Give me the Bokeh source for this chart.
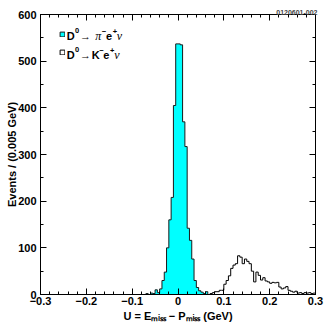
import numpy as np
from bokeh.plotting import figure
from bokeh.models import (LinearAxis, FixedTicker, CustomJSTickFormatter,
                          Label, Range1d, Legend, LegendItem)
from bokeh.embed import file_html
from bokeh.resources import INLINE

# ---------------- data ----------------
BIN_WIDTH = 0.005
pi_first_edge = -0.070
pi_counts = [2, 0, 3, 2, 10, 4, 12, 30, 48, 100, 160, 208, 405, 537,
             537, 535, 370, 317, 142, 116, 76, 30, 15, 8, 5, 2, 6, 0]
k_first_edge = 0.070
k_counts = [2, 4, 6, 6, 9, 9, 22, 30, 40, 56, 63, 66, 83, 80, 66, 76,
            71, 66, 50, 27, 48, 41, 31, 36, 29, 27, 24, 26, 25, 26, 16, 12,
            14, 17, 9, 7, 5, 7, 3, 4, 2, 4, 3, 4, 2, 3]
x_major = [-0.3, -0.2, -0.1, 0.0, 0.1, 0.2, 0.3]
x_tick_labels = ["\u22120.3", "\u22120.2", "\u22120.1", "0", "0.1", "0.2", "0.3"]
y_major = [0, 100, 200, 300, 400, 500, 600]
y_label_text = "Events / (0.005 GeV)"
x_label_text = "U = E\u2098\u1d62\u209b\u209b \u2212 P\u2098\u1d62\u209b\u209b (GeV)"
stamp_text = "0120601-002"

FONT = "Liberation Sans"

def edges_of(first, counts):
    return first + BIN_WIDTH * np.arange(len(counts) + 1)

def outline(edges, counts):
    xs = np.repeat(edges, 2)
    ys = np.concatenate([[0], np.repeat(np.asarray(counts, float), 2), [0]])
    return xs, ys

pi_edges = edges_of(pi_first_edge, pi_counts)
k_edges = edges_of(k_first_edge, k_counts)

W, H = 326, 326
ML, MR, MT, MB = 40, 11, 14, 32

p = figure(width=W, height=H, x_range=Range1d(-0.3, 0.3), y_range=Range1d(0, 600),
           output_backend="svg", toolbar_location=None,
           x_axis_type=None, y_axis_type=None,
           min_border_left=ML, min_border_right=MR, min_border_top=MT, min_border_bottom=MB)
p.xgrid.visible = False
p.ygrid.visible = False
p.outline_line_color = "black"
p.outline_line_width = 1
p.background_fill_color = "white"

# stamp above the frame, right aligned
p.title.text = stamp_text
p.title.align = "right"
p.title.text_font = FONT
p.title.text_font_size = "7px"
p.title.text_font_style = "bold"
p.title.standoff = 0
p.title.offset = -2

# histograms (filled outline patches)
xs, ys = outline(pi_edges, pi_counts)
r_pi = p.patch(xs, ys, fill_color="#00FFFF", line_color="#1a1a1a", line_width=1)
xs, ys = outline(k_edges, k_counts)
r_k = p.patch(xs, ys, fill_color="white", line_color="black", line_width=1)

# axes
x_minor = list(np.round(np.arange(-0.30, 0.3001, 0.02), 2))
y_minor = list(range(0, 601, 50))
xt = FixedTicker(ticks=x_major, minor_ticks=x_minor)
yt = FixedTicker(ticks=y_major, minor_ticks=y_minor)
xfmt = CustomJSTickFormatter(args=dict(labels=x_tick_labels), code="""
const i = Math.round((tick + 0.3) / 0.1);
return labels[i];
""")
blank = CustomJSTickFormatter(code="return '';")

common = dict(major_tick_in=6, major_tick_out=0, minor_tick_in=3, minor_tick_out=0,
              axis_line_color="black", major_tick_line_color="black",
              minor_tick_line_color="black",
              major_label_text_font=FONT, major_label_text_font_style="bold",
              major_label_text_color="black")

bx = LinearAxis(ticker=xt, formatter=xfmt, major_label_text_font_size="11px",
                major_label_standoff=2,
                axis_label=x_label_text, axis_label_text_font=FONT,
                axis_label_text_font_style="bold", axis_label_text_font_size="11px",
                axis_label_standoff=2, axis_label_text_color="black", **common)
p.add_layout(bx, "below")
ly = LinearAxis(ticker=yt, major_label_text_font_size="11px", major_label_standoff=4,
                axis_label=y_label_text, axis_label_text_font=FONT,
                axis_label_text_font_style="bold", axis_label_text_font_size="11px",
                axis_label_standoff=-3, axis_label_text_color="black", **common)
p.add_layout(ly, "left")
p.add_layout(LinearAxis(ticker=xt, formatter=blank, major_label_text_font_size="1px",
                        major_label_standoff=0, **common), "above")
p.add_layout(LinearAxis(ticker=yt, formatter=blank, major_label_text_font_size="1px",
                        major_label_standoff=0, **common), "right")

# frame-relative screen coords from reference window coords
def fx(xr):
    return xr - 39.5

def fy(yr):
    return 294.0 - yr

def lab(x, y, text, size="11px", style="bold", font=FONT, align="left"):
    p.add_layout(Label(x=x, y=y, x_units="screen", y_units="screen", text=text,
                       text_font=font, text_font_size=size, text_font_style=style,
                       text_align=align, text_baseline="alphabetic", text_color="black"))

# legend swatches
leg = Legend(items=[LegendItem(label=" ", renderers=[r_pi]),
                    LegendItem(label=" ", renderers=[r_k])],
             location=(fx(58.3), fy(54.5)), orientation="vertical",
             glyph_width=6, glyph_height=6, label_height=6, label_width=0,
             label_standoff=0, padding=0, margin=0, spacing=12,
             border_line_color=None, background_fill_alpha=0,
             label_text_font_size="1px")
p.add_layout(leg)

# legend texts
def decay(yb, particle, particle_font, particle_style, px, offs):
    lx = fx(65.7)
    lab(lx, yb, "D")
    lab(lx + 8.3, yb + 5.5, "0", size="7.5px")
    lab(lx + 13.3, yb + 0.5, "\u2192", size="11px", style="normal")
    lab(lx + px, yb, particle, size="11px" if particle == "K" else "12px",
        style=particle_style, font=particle_font)
    lab(lx + offs[0], yb + 5, "\u2212", size="7.5px")
    lab(lx + offs[1], yb, "e")
    lab(lx + offs[2], yb + 5, "+", size="7.5px")
    lab(lx + offs[3], yb, "\u03bd", size="12px", style="italic", font="Liberation Serif")

decay(fy(35.8), "\u03c0", "Liberation Serif", "italic", 28.6, (35.0, 39.3, 46.0, 50.0))
decay(fy(54.5), "K", FONT, "bold", 25.0, (32.6, 36.6, 43.3, 47.6))

open("out.html", "w").write(file_html(p, INLINE))
